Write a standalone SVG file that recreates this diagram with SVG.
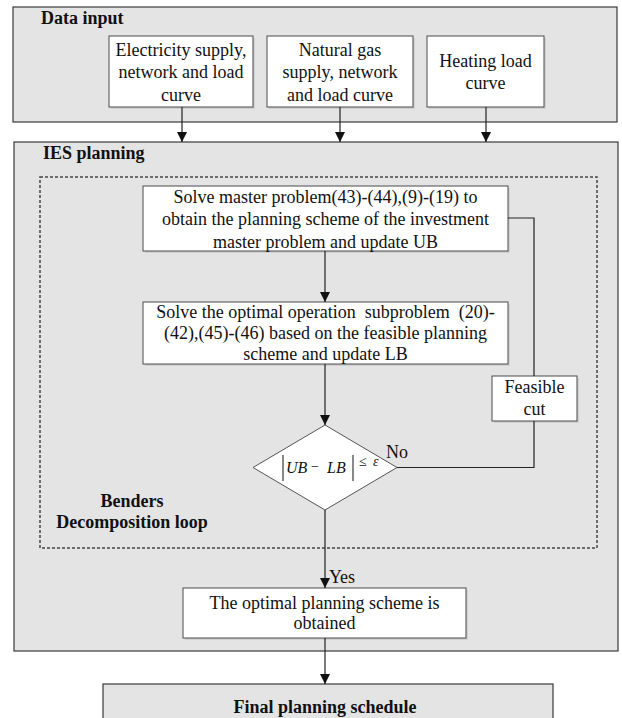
<svg xmlns="http://www.w3.org/2000/svg" width="622" height="718" viewBox="0 0 622 718">
<defs>
<marker id="arr" markerWidth="10" markerHeight="11" refX="10" refY="5" orient="auto" markerUnits="userSpaceOnUse">
<path d="M0,0 L10,5 L0,10 z" fill="#111"/>
</marker>
<style>
.panel{fill:#e4e4e4;stroke:#3a3a3a;stroke-width:1.2}
.box{fill:#fff;stroke:#4a4a4a;stroke-width:1}
.shadow{fill:#c4c4c4;opacity:0.6}
.t{font-family:"Liberation Serif","Times New Roman",serif;font-size:18px;fill:#111;text-anchor:middle}
.b{font-family:"Liberation Serif","Times New Roman",serif;font-size:18px;font-weight:bold;fill:#111}
.i{font-family:"Liberation Serif","Times New Roman",serif;font-size:16px;font-style:italic;fill:#111}
.s{font-family:"Liberation Serif","Times New Roman",serif;font-size:14px;fill:#111}
.line{fill:none;stroke:#222;stroke-width:1.2}
.arrow{fill:none;stroke:#222;stroke-width:1.2;marker-end:url(#arr)}
</style>
</defs>
<rect width="622" height="718" fill="#fff"/>

<g id="data-input">
<rect class="panel" x="13" y="7" width="604" height="115"/>
<text class="b" x="41" y="24">Data input</text>
</g>

<g id="elec">
<rect class="shadow" x="111" y="38" width="144" height="71"/>
<rect class="box" x="109" y="36" width="144" height="71"/>
<text class="t" x="181" y="56">Electricity supply,</text>
<text class="t" x="181" y="78">network and load</text>
<text class="t" x="181" y="101">curve</text>
</g>

<g id="gas">
<rect class="shadow" x="269" y="38" width="146" height="71"/>
<rect class="box" x="267" y="36" width="146" height="71"/>
<text class="t" x="340" y="56">Natural gas</text>
<text class="t" x="340" y="78">supply, network</text>
<text class="t" x="340" y="101">and load curve</text>
</g>

<g id="heat">
<rect class="shadow" x="429" y="38" width="117" height="71"/>
<rect class="box" x="427" y="36" width="117" height="71"/>
<text class="t" x="485.5" y="67">Heating load</text>
<text class="t" x="485.5" y="89">curve</text>
</g>

<g id="ies-planning">
<rect class="panel" x="14" y="142" width="604" height="509"/>
<text class="b" x="43" y="159">IES planning</text>
</g>

<g id="benders-loop">
<rect x="40" y="177" width="557" height="371" fill="none" stroke="#444" stroke-width="1.5" stroke-dasharray="3,2"/>
<text class="b" x="132" y="507" text-anchor="middle">Benders</text>
<text class="b" x="132" y="528" text-anchor="middle">Decomposition loop</text>
</g>

<g id="master">
<rect class="shadow" x="145" y="188" width="365" height="65"/>
<rect class="box" x="143" y="186" width="365" height="65"/>
<text class="t" x="325.5" y="203">Solve master problem(43)-(44),(9)-(19) to</text>
<text class="t" x="325.5" y="225">obtain the planning scheme of the investment</text>
<text class="t" x="325.5" y="248">master problem and update UB</text>
</g>

<g id="sub">
<rect class="shadow" x="145" y="304" width="365" height="62"/>
<rect class="box" x="143" y="302" width="365" height="62"/>
<text class="t" x="325.5" y="318" xml:space="preserve">Solve the optimal operation  subproblem  (20)-</text>
<text class="t" x="325.5" y="339">(42),(45)-(46) based on the feasible planning</text>
<text class="t" x="325.5" y="360">scheme and update LB</text>
</g>

<g id="feasible-cut">
<rect class="shadow" x="494" y="378" width="85" height="45"/>
<rect class="box" x="492" y="376" width="85" height="45"/>
<text class="t" x="534.5" y="393">Feasible</text>
<text class="t" x="534.5" y="415">cut</text>
</g>

<g id="check">
<polygon points="325,425 397,467.5 325,510 253,467.5" fill="#fff" stroke="#555" stroke-width="1"/>
<line x1="283" y1="455" x2="283" y2="481" stroke="#111" stroke-width="1"/>
<text class="i" x="286" y="473">UB</text>
<text class="s" x="311" y="471">−</text>
<text class="i" x="327" y="473">LB</text>
<line x1="353" y1="455" x2="353" y2="481" stroke="#111" stroke-width="1"/>
<text class="s" x="359" y="466">≤</text>
<text class="s" x="373" y="466" font-style="italic">ε</text>
</g>

<g id="optimal">
<rect class="shadow" x="185" y="590" width="283" height="50"/>
<rect class="box" x="183" y="588" width="283" height="50"/>
<text class="t" x="324.5" y="609">The optimal planning scheme is</text>
<text class="t" x="324.5" y="629">obtained</text>
</g>

<g id="final">
<rect class="panel" x="103" y="684" width="450" height="40"/>
<text class="b" x="325" y="713" text-anchor="middle">Final planning schedule</text>
</g>

<g id="connectors">
<line class="arrow" x1="182" y1="107" x2="182" y2="142"/>
<line class="arrow" x1="340" y1="107" x2="340" y2="142"/>
<line class="arrow" x1="486" y1="107" x2="486" y2="142"/>
<line class="arrow" x1="325" y1="251" x2="325" y2="302"/>
<line class="arrow" x1="325" y1="364" x2="325" y2="425"/>
<line class="arrow" x1="325" y1="510" x2="325" y2="588"/>
<line class="arrow" x1="325" y1="638" x2="325" y2="684"/>
<polyline class="line" points="397,467.5 534,467.5 534,421"/>
<polyline class="line" points="534,376 534,218 508,218"/>
<text class="t" x="397" y="458" text-anchor="start">No</text>
<text class="t" x="342" y="583" text-anchor="start">Yes</text>
</g>
</svg>
